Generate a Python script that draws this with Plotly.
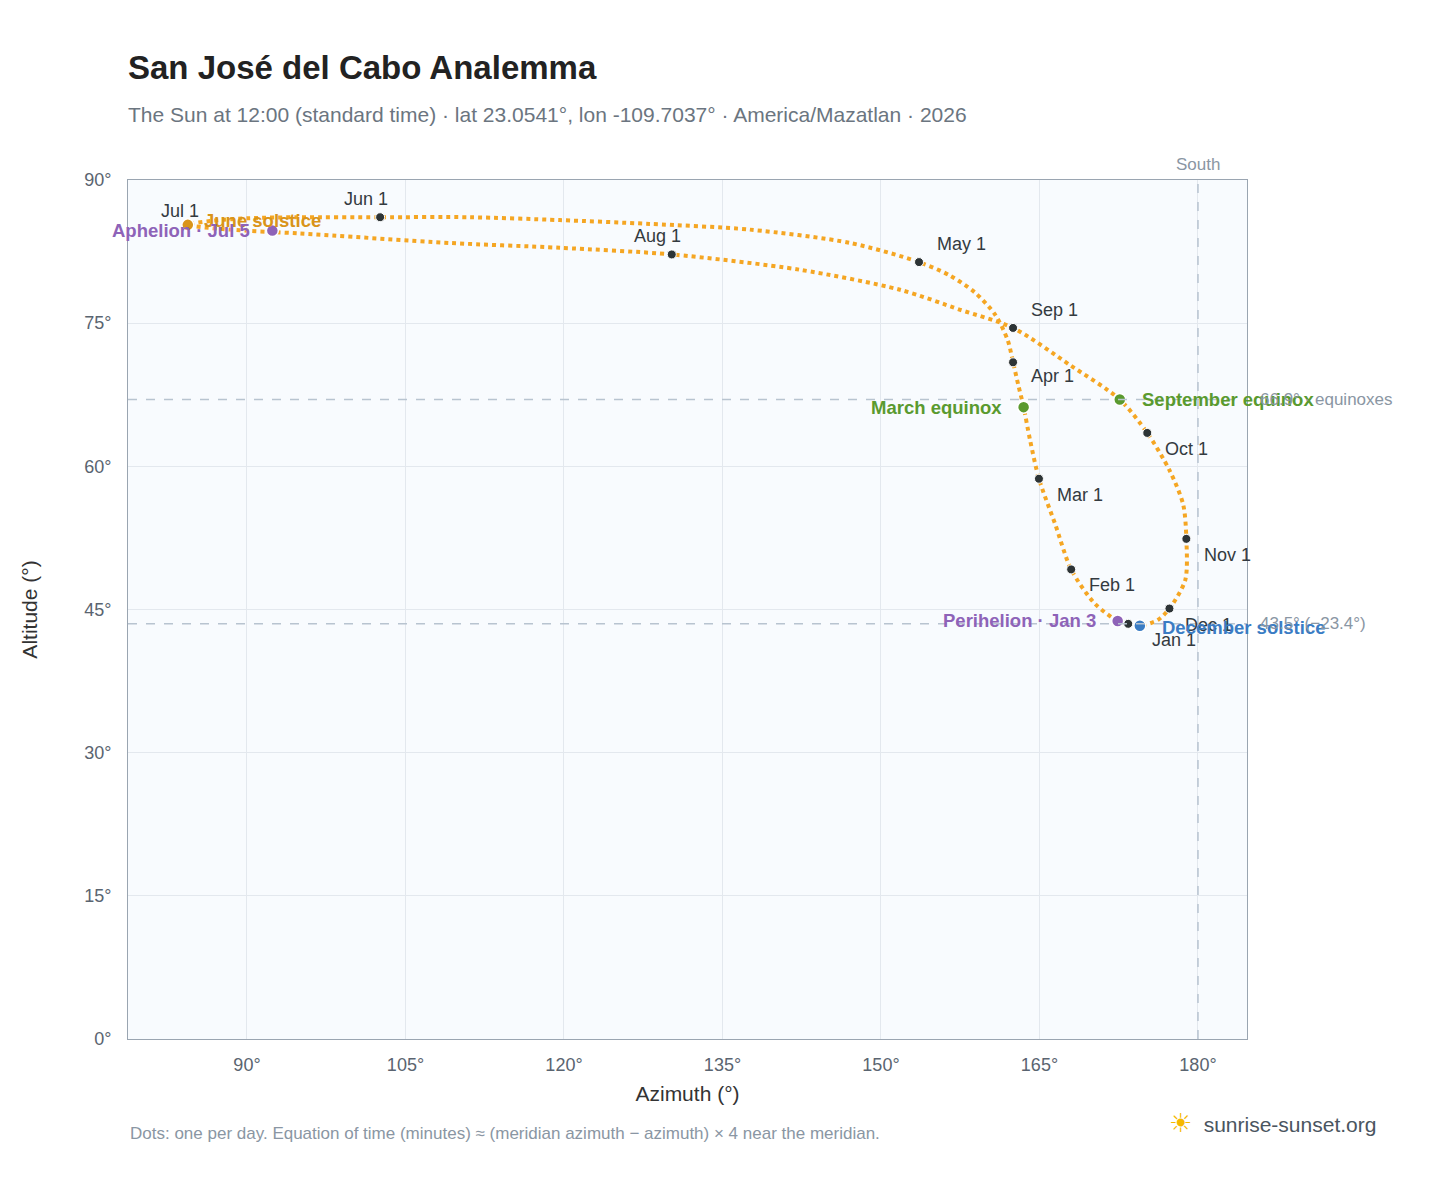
import plotly.graph_objects as go

# path of the sun, Jan 1 -> Dec 31
path_az = [173.4,172.4,170.25,168.0,166.5,164.95,164.1,163.5,163.0,162.5,162.0,160.8,158.9,156.5,153.6,
           147.1,137.6,128.1,119.6,111.1,102.6,95.0,90.3,86.5,84.4,88.4,95.0,109.2,119.6,130.2,
           142.3,151.8,157.5,162.5,167.9,172.6,175.2,177.3,178.6,178.9,178.8,177.3,176.2,174.5,173.4]
path_alt = [43.5,43.8,45.6,49.2,53.9,58.7,62.8,66.2,68.5,70.9,73.2,75.9,78.2,80.0,81.4,
            83.4,84.8,85.4,85.8,86.1,86.1,86.1,86.0,85.7,85.3,84.8,84.4,83.4,82.9,82.2,
            80.6,78.5,76.4,74.5,70.6,67.0,63.5,59.6,56.0,52.4,48.1,45.1,43.9,43.3,43.5]

month_labels = ["Jan 1","Feb 1","Mar 1","Apr 1","May 1","Jun 1","Jul 1","Aug 1","Sep 1","Oct 1","Nov 1","Dec 1"]
month_az = [173.4,168.0,164.95,162.5,153.6,102.6,84.4,130.2,162.5,175.2,178.9,177.3]
month_alt = [43.5,49.2,58.7,70.9,81.4,86.1,85.3,82.2,74.5,63.5,52.4,45.1]

events = ["March equinox","June solstice","September equinox","December solstice","Perihelion · Jan 3","Aphelion · Jul 5"]
event_az = [163.5,84.4,172.6,174.5,172.4,92.4]
event_alt = [66.2,85.3,67.0,43.3,43.8,84.7]
event_col = ["#5a9a2f","#d9941a","#5a9a2f","#3a7cc4","#8e63b8","#8e63b8"]

x_ticks = [90,105,120,135,150,165,180]
y_ticks = [0,15,30,45,60,75,90]

equinox_alt = 67.0
solstice_alt = 43.5
south_az = 180

fig = go.Figure()
fig.add_trace(go.Scatter(x=path_az, y=path_alt, mode="lines", line=dict(color="#f5a623", width=4, dash="dot", shape="spline", smoothing=0.8), hoverinfo="skip"))
fig.add_trace(go.Scatter(x=month_az, y=month_alt, mode="markers", marker=dict(color="#2d3436", size=9, line=dict(color="white", width=1))))
fig.add_trace(go.Scatter(x=event_az, y=event_alt, mode="markers", marker=dict(color=event_col, size=12, line=dict(color="white", width=1.5))))

offs = {"Jan 1":(22,-16),"Feb 1":(16,-16),"Mar 1":(16,-16),"Apr 1":(16,-14),"May 1":(16,18),"Jun 1":(-14,18),
        "Jul 1":(-8,14),"Aug 1":(-14,18),"Sep 1":(16,18),"Oct 1":(16,-16),"Nov 1":(16,-16),"Dec 1":(14,-16)}
for l,a,h in zip(month_labels,month_az,month_alt):
    dx,dy = offs[l]
    fig.add_annotation(x=a,y=h,text=l,showarrow=False,xshift=dx,yshift=dy,xanchor="left" if dx>10 else "center",
                       font=dict(size=18,color="#333a40"))
eoffs = [(-20,0,"right"),(14,4,"left"),(20,0,"left"),(20,-2,"left"),(-20,0,"right"),(-20,0,"right")]
for e,a,h,c,(dx,dy,xa) in zip(events,event_az,event_alt,event_col,eoffs):
    fig.add_annotation(x=a,y=h,text="<b>"+e+"</b>",showarrow=False,xshift=dx,yshift=dy,xanchor=xa,font=dict(size=18.5,color=c))

dash = dict(color="#b8c4d0", width=1.5, dash="dash")
fig.add_shape(type="line", xref="paper", x0=0, x1=1, y0=equinox_alt, y1=equinox_alt, line=dash)
fig.add_shape(type="line", xref="paper", x0=0, x1=1, y0=solstice_alt, y1=solstice_alt, line=dash)
fig.add_shape(type="line", yref="paper", x0=south_az, x1=south_az, y0=0, y1=1, line=dash)
fig.add_annotation(x=1.01,xref="paper",y=equinox_alt,text="66.9° · equinoxes",showarrow=False,xanchor="left",font=dict(size=17,color="#8a96a3"))
fig.add_annotation(x=1.01,xref="paper",y=solstice_alt,text="43.5° (−23.4°)",showarrow=False,xanchor="left",font=dict(size=17,color="#8a96a3"))
fig.add_annotation(x=south_az,y=1,yref="paper",text="South",showarrow=False,yanchor="bottom",yshift=4,font=dict(size=17,color="#8a96a3"))

fig.add_annotation(x=0,xref="paper",y=-0.123,yref="paper",xanchor="left",showarrow=False,
                   text="Dots: one per day. Equation of time (minutes) ≈ (meridian azimuth − azimuth) × 4 near the meridian.",
                   font=dict(size=17,color="#8a96a3"))
fig.add_annotation(x=1.117,xref="paper",y=-0.118,yref="paper",xanchor="right",showarrow=False,
                   text="<span style='color:#f5b800;font-size:26px'>☀</span>  sunrise-sunset.org",font=dict(size=21,color="#4a5560"))

fig.update_layout(
    width=1448, height=1188, paper_bgcolor="white", plot_bgcolor="#f8fbfe",
    margin=dict(l=120, r=209, t=172, b=157), showlegend=False,
    font=dict(family="Liberation Sans, Arial, sans-serif", color="#555f6a"),
    title=dict(text="<b>San José del Cabo Analemma</b><br><span style='font-size:21px;color:#6b7580'>The Sun at 12:00 (standard time) · lat 23.0541°, lon -109.7037° · America/Mazatlan · 2026</span>",
               x=120/1448, xanchor="left", y=0.94, yanchor="top", font=dict(size=33,color="#222")),
)
fig.update_xaxes(range=[78.74,184.64], tickvals=x_ticks, ticktext=[f"{v}°" for v in x_ticks], gridcolor="#e3e8ee",
                 showline=True, linecolor="#9aa5b1", mirror=True, zeroline=False, tickfont=dict(size=18, color="#5a6470"),
                 ticks="outside", ticklen=9, tickcolor="rgba(0,0,0,0)",
                 title=dict(text="Azimuth (°)", font=dict(size=21,color="#333"), standoff=12))
fig.update_yaxes(range=[0,90], tickvals=y_ticks, ticktext=[f"{v}°" for v in y_ticks], gridcolor="#e3e8ee",
                 showline=True, linecolor="#9aa5b1", mirror=True, zeroline=False, tickfont=dict(size=18, color="#5a6470"),
                 ticks="outside", ticklen=12, tickcolor="rgba(0,0,0,0)",
                 title=dict(text="Altitude (°)", font=dict(size=21,color="#333"), standoff=40))
fig.write_html("out.html")
